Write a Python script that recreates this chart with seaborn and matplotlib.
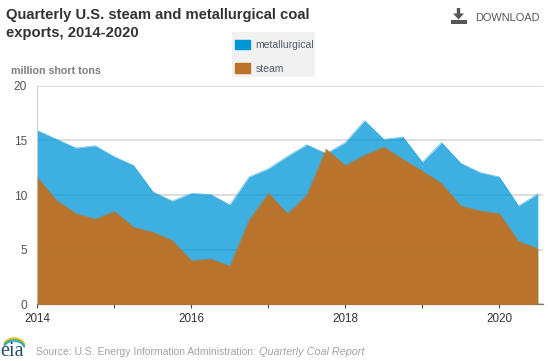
import numpy as np
import pandas as pd
import seaborn as sns
import matplotlib.pyplot as plt
from matplotlib.patches import Patch, Polygon, Rectangle, Arc

# valores (millones de toneladas cortas)
quarters = ['2014Q1', '2014Q2', '2014Q3', '2014Q4', '2015Q1', '2015Q2', '2015Q3', '2015Q4',
            '2016Q1', '2016Q2', '2016Q3', '2016Q4', '2017Q1', '2017Q2', '2017Q3', '2017Q4',
            '2018Q1', '2018Q2', '2018Q3', '2018Q4', '2019Q1', '2019Q2', '2019Q3', '2019Q4',
            '2020Q1', '2020Q2', '2020Q3']
metallurgical = [15.9, 15.1, 14.3, 14.5, 13.5, 12.7, 10.3, 9.45, 10.15, 10.05, 9.1, 11.65, 12.4, 13.55,
                 14.6, 13.8, 14.8, 16.8, 15.1, 15.3, 13.0, 14.8, 12.9, 12.05, 11.65, 9.0, 10.1]
steam = [11.6, 9.5, 8.3, 7.8, 8.5, 7.05, 6.6, 5.85, 4.0, 4.15, 3.5, 7.7, 10.15, 8.3,
         10.0, 14.2, 12.7, 13.65, 14.4, 13.25, 12.2, 11.05, 9.0, 8.55, 8.3, 5.75, 5.1]
year_ticks = [2014, 2015, 2016, 2017, 2018, 2019, 2020]
year_labels = ['2014', '', '2016', '', '2018', '', '2020']
y_ticks = [0, 5, 10, 15, 20]

W, H = 548, 361
blue = '#0096d7'
brown = '#bb7329'

sns.set_theme(style='white')
plt.rcParams['font.family'] = ['Liberation Sans', 'DejaVu Sans']

df = pd.DataFrame({'quarter': quarters, 'metallurgical': metallurgical, 'steam': steam})
per = pd.PeriodIndex(df['quarter'], freq='Q')
df['x'] = per.year + (per.quarter - 1) / 4

fig = plt.figure(figsize=(W / 100, H / 100), dpi=100)
ax = fig.add_axes([37.3 / W, 1 - 304.3 / H, (543.3 - 37.3) / W, 218.6 / H])

# Areas
sns.lineplot(data=df, x='x', y='metallurgical', color=blue, alpha=0.75, linewidth=0.4, ax=ax, zorder=2)
sns.lineplot(data=df, x='x', y='steam', color=brown, linewidth=0.4, ax=ax, zorder=3)
ax.fill_between(df['x'], df['metallurgical'], color=blue, alpha=0.76, linewidth=0, zorder=2)
ax.fill_between(df['x'], df['steam'], color=brown, alpha=0.98, linewidth=0, zorder=3)

ax.set_xlim(2014, 2014 + (543.3 - 37.3) / 77)
ax.set_ylim(0, 20)
ax.set_xlabel('')
ax.set_ylabel('')
ax.set_xticks(year_ticks)
ax.set_xticklabels(year_labels)
ax.set_yticks(y_ticks)
ax.grid(axis='y', color='#d8d8d8', linewidth=1.2, zorder=1)
ax.set_axisbelow(True)
ax.tick_params(axis='y', length=3.4, width=0.9, color='#d8d8d8', labelsize=8.6, labelcolor='#555555', pad=4)
ax.tick_params(axis='x', bottom=True, length=3, width=0.8, color='#444444', labelsize=8.4, labelcolor='#333333', pad=3.5)
for s in ['top', 'right']:
    ax.spines[s].set_visible(False)
ax.spines['left'].set_color('#c4c4c4')
ax.spines['left'].set_linewidth(0.6)
ax.spines['bottom'].set_color('#777777')
ax.spines['bottom'].set_linewidth(0.9)

# Leyenda
fig.add_artist(Rectangle((232 / W, 1 - 77 / H), 83 / W, 45 / H, facecolor='#f1f1f1', edgecolor='none',
                         transform=fig.transFigure, zorder=4))
handles = [Patch(facecolor=blue, edgecolor=blue, label='metallurgical'),
           Patch(facecolor=brown, edgecolor=brown, label='steam')]
leg = fig.legend(handles=handles, loc='upper left', bbox_to_anchor=(235 / W, 1 - 39.5 / H), bbox_transform=fig.transFigure,
                 frameon=False, fontsize=7.5, labelcolor='#555e6b', handlelength=1.4, handleheight=1.05,
                 handletextpad=0.55, labelspacing=1.3, borderpad=0, borderaxespad=0)
leg.set_zorder(5)

# Textos
fig.text(6 / W, 1 - 19 / H, 'Quarterly U.S. steam and metallurgical coal', fontsize=10.6, fontweight='bold',
         color='#333333', va='baseline')
fig.text(6 / W, 1 - 37.5 / H, 'exports, 2014-2020', fontsize=10.6, fontweight='bold', color='#333333', va='baseline')
fig.text(11 / W, 1 - 74.5 / H, 'million short tons', fontsize=7.7, fontweight='bold', color='#7f7f7f', va='baseline')
fig.text(475 / W, 1 - 21 / H, 'DOWNLOAD', fontsize=7.9, color='#555555', va='baseline')
fig.text(36 / W, 1 - 355 / H, 'Source: U.S. Energy Information Administration:', fontsize=7.5, color='#a3a3a3', va='baseline')
fig.text(259 / W, 1 - 355 / H, 'Quarterly Coal Report', fontsize=7.8, style='italic', color='#a3a3a3', va='baseline')

# Icono de descarga
def px(x, y):
    return (x / W, 1 - y / H)

icon = [(456.8, 8), (460.2, 8), (460.2, 13.5), (464, 13.5), (458.5, 19.5), (453, 13.5), (456.8, 13.5)]
fig.add_artist(Polygon([px(*p) for p in icon], closed=True, facecolor='#555555', edgecolor='none', transform=fig.transFigure))
fig.add_artist(Rectangle(px(450.5, 23.5), 16.5 / W, 3 / H, facecolor='#555555', edgecolor='none', transform=fig.transFigure))

# Logo eia
fig.text(0 / W, 1 - 356 / H, 'eia', fontsize=14.5, family='Liberation Serif', color='#1f4e66', va='baseline')
for col, yc in [('#f0c020', 347), ('#6cb644', 348.5), ('#1f9ad6', 350)]:
    fig.add_artist(Arc(px(14, yc), 22 / W, 18 / H, theta1=20, theta2=150, color=col, linewidth=1.1, transform=fig.transFigure))

plt.savefig('out.png', dpi=100)
